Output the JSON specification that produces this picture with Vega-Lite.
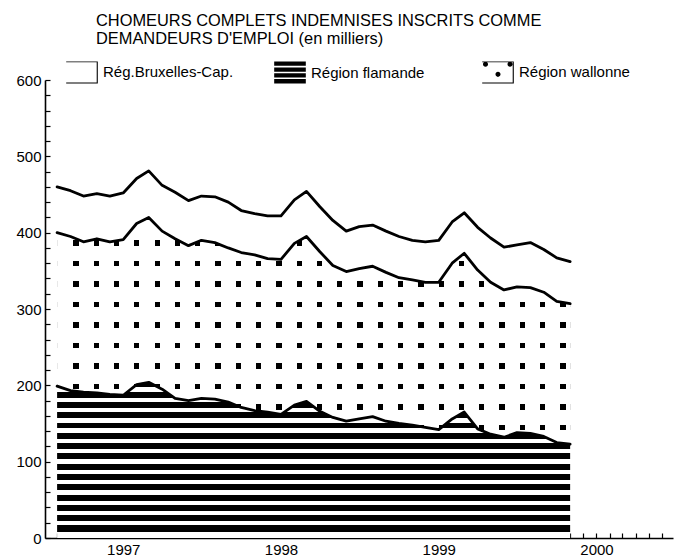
{
  "$schema": "https://vega.github.io/schema/vega-lite/v6.json",
  "width": 628,
  "height": 458,
  "autosize": {"type": "none"},
  "padding": {"left": 45, "top": 80, "right": 15, "bottom": 21},
  "background": "white",
  "config": {"view": {"stroke": null}, "font": "Liberation Sans"},
  "title": {
    "text": ["CHOMEURS COMPLETS INDEMNISES INSCRITS COMME", "DEMANDEURS D'EMPLOI (en milliers)"],
    "anchor": "start", "frame": "group", "dx": 51, "offset": 9,
    "font": "Liberation Sans", "fontSize": 16.4, "fontWeight": "normal", "color": "black", "lineHeight": 18
  },
  "data": {"values": [
    {"date":"1996-08-01","region":"Région flamande","code":"02000","value":199},{"date":"1996-08-01","region":"Région wallonne","code":"03000","value":201},{"date":"1996-08-01","region":"Rég.Bruxelles-Cap.","code":"04000","value":60},
    {"date":"1996-09-01","region":"Région flamande","code":"02000","value":193},{"date":"1996-09-01","region":"Région wallonne","code":"03000","value":202},{"date":"1996-09-01","region":"Rég.Bruxelles-Cap.","code":"04000","value":60},
    {"date":"1996-10-01","region":"Région flamande","code":"02000","value":191},{"date":"1996-10-01","region":"Région wallonne","code":"03000","value":197},{"date":"1996-10-01","region":"Rég.Bruxelles-Cap.","code":"04000","value":60},
    {"date":"1996-11-01","region":"Région flamande","code":"02000","value":190},{"date":"1996-11-01","region":"Région wallonne","code":"03000","value":202},{"date":"1996-11-01","region":"Rég.Bruxelles-Cap.","code":"04000","value":59},
    {"date":"1996-12-01","region":"Région flamande","code":"02000","value":188},{"date":"1996-12-01","region":"Région wallonne","code":"03000","value":200},{"date":"1996-12-01","region":"Rég.Bruxelles-Cap.","code":"04000","value":60},
    {"date":"1997-01-01","region":"Région flamande","code":"02000","value":187},{"date":"1997-01-01","region":"Région wallonne","code":"03000","value":204},{"date":"1997-01-01","region":"Rég.Bruxelles-Cap.","code":"04000","value":61},
    {"date":"1997-02-01","region":"Région flamande","code":"02000","value":201},{"date":"1997-02-01","region":"Région wallonne","code":"03000","value":211},{"date":"1997-02-01","region":"Rég.Bruxelles-Cap.","code":"04000","value":59},
    {"date":"1997-03-01","region":"Région flamande","code":"02000","value":204},{"date":"1997-03-01","region":"Région wallonne","code":"03000","value":216},{"date":"1997-03-01","region":"Rég.Bruxelles-Cap.","code":"04000","value":61},
    {"date":"1997-04-01","region":"Région flamande","code":"02000","value":195},{"date":"1997-04-01","region":"Région wallonne","code":"03000","value":207},{"date":"1997-04-01","region":"Rég.Bruxelles-Cap.","code":"04000","value":60},
    {"date":"1997-05-01","region":"Région flamande","code":"02000","value":183},{"date":"1997-05-01","region":"Région wallonne","code":"03000","value":209},{"date":"1997-05-01","region":"Rég.Bruxelles-Cap.","code":"04000","value":61},
    {"date":"1997-06-01","region":"Région flamande","code":"02000","value":180},{"date":"1997-06-01","region":"Région wallonne","code":"03000","value":203},{"date":"1997-06-01","region":"Rég.Bruxelles-Cap.","code":"04000","value":59},
    {"date":"1997-07-01","region":"Région flamande","code":"02000","value":183},{"date":"1997-07-01","region":"Région wallonne","code":"03000","value":207},{"date":"1997-07-01","region":"Rég.Bruxelles-Cap.","code":"04000","value":58},
    {"date":"1997-08-01","region":"Région flamande","code":"02000","value":182},{"date":"1997-08-01","region":"Région wallonne","code":"03000","value":205},{"date":"1997-08-01","region":"Rég.Bruxelles-Cap.","code":"04000","value":60},
    {"date":"1997-09-01","region":"Région flamande","code":"02000","value":178},{"date":"1997-09-01","region":"Région wallonne","code":"03000","value":202},{"date":"1997-09-01","region":"Rég.Bruxelles-Cap.","code":"04000","value":60},
    {"date":"1997-10-01","region":"Région flamande","code":"02000","value":171},{"date":"1997-10-01","region":"Région wallonne","code":"03000","value":203},{"date":"1997-10-01","region":"Rég.Bruxelles-Cap.","code":"04000","value":55},
    {"date":"1997-11-01","region":"Région flamande","code":"02000","value":167},{"date":"1997-11-01","region":"Région wallonne","code":"03000","value":204},{"date":"1997-11-01","region":"Rég.Bruxelles-Cap.","code":"04000","value":54},
    {"date":"1997-12-01","region":"Région flamande","code":"02000","value":165},{"date":"1997-12-01","region":"Région wallonne","code":"03000","value":201},{"date":"1997-12-01","region":"Rég.Bruxelles-Cap.","code":"04000","value":56},
    {"date":"1998-01-01","region":"Région flamande","code":"02000","value":162},{"date":"1998-01-01","region":"Région wallonne","code":"03000","value":203},{"date":"1998-01-01","region":"Rég.Bruxelles-Cap.","code":"04000","value":57},
    {"date":"1998-02-01","region":"Région flamande","code":"02000","value":174},{"date":"1998-02-01","region":"Région wallonne","code":"03000","value":212},{"date":"1998-02-01","region":"Rég.Bruxelles-Cap.","code":"04000","value":57},
    {"date":"1998-03-01","region":"Région flamande","code":"02000","value":179},{"date":"1998-03-01","region":"Région wallonne","code":"03000","value":216},{"date":"1998-03-01","region":"Rég.Bruxelles-Cap.","code":"04000","value":59},
    {"date":"1998-04-01","region":"Région flamande","code":"02000","value":166},{"date":"1998-04-01","region":"Région wallonne","code":"03000","value":209},{"date":"1998-04-01","region":"Rég.Bruxelles-Cap.","code":"04000","value":59},
    {"date":"1998-05-01","region":"Région flamande","code":"02000","value":158},{"date":"1998-05-01","region":"Région wallonne","code":"03000","value":199},{"date":"1998-05-01","region":"Rég.Bruxelles-Cap.","code":"04000","value":59},
    {"date":"1998-06-01","region":"Région flamande","code":"02000","value":153},{"date":"1998-06-01","region":"Région wallonne","code":"03000","value":196},{"date":"1998-06-01","region":"Rég.Bruxelles-Cap.","code":"04000","value":53},
    {"date":"1998-07-01","region":"Région flamande","code":"02000","value":156},{"date":"1998-07-01","region":"Région wallonne","code":"03000","value":197},{"date":"1998-07-01","region":"Rég.Bruxelles-Cap.","code":"04000","value":55},
    {"date":"1998-08-01","region":"Région flamande","code":"02000","value":159},{"date":"1998-08-01","region":"Région wallonne","code":"03000","value":197},{"date":"1998-08-01","region":"Rég.Bruxelles-Cap.","code":"04000","value":54},
    {"date":"1998-09-01","region":"Région flamande","code":"02000","value":153},{"date":"1998-09-01","region":"Région wallonne","code":"03000","value":195},{"date":"1998-09-01","region":"Rég.Bruxelles-Cap.","code":"04000","value":54},
    {"date":"1998-10-01","region":"Région flamande","code":"02000","value":150},{"date":"1998-10-01","region":"Région wallonne","code":"03000","value":191},{"date":"1998-10-01","region":"Rég.Bruxelles-Cap.","code":"04000","value":54},
    {"date":"1998-11-01","region":"Région flamande","code":"02000","value":148},{"date":"1998-11-01","region":"Région wallonne","code":"03000","value":190},{"date":"1998-11-01","region":"Rég.Bruxelles-Cap.","code":"04000","value":52},
    {"date":"1998-12-01","region":"Région flamande","code":"02000","value":145},{"date":"1998-12-01","region":"Région wallonne","code":"03000","value":190},{"date":"1998-12-01","region":"Rég.Bruxelles-Cap.","code":"04000","value":53},
    {"date":"1999-01-01","region":"Région flamande","code":"02000","value":142},{"date":"1999-01-01","region":"Région wallonne","code":"03000","value":193},{"date":"1999-01-01","region":"Rég.Bruxelles-Cap.","code":"04000","value":55},
    {"date":"1999-02-01","region":"Région flamande","code":"02000","value":156},{"date":"1999-02-01","region":"Région wallonne","code":"03000","value":204},{"date":"1999-02-01","region":"Rég.Bruxelles-Cap.","code":"04000","value":54},
    {"date":"1999-03-01","region":"Région flamande","code":"02000","value":165},{"date":"1999-03-01","region":"Région wallonne","code":"03000","value":208},{"date":"1999-03-01","region":"Rég.Bruxelles-Cap.","code":"04000","value":53},
    {"date":"1999-04-01","region":"Région flamande","code":"02000","value":143},{"date":"1999-04-01","region":"Région wallonne","code":"03000","value":208},{"date":"1999-04-01","region":"Rég.Bruxelles-Cap.","code":"04000","value":56},
    {"date":"1999-05-01","region":"Région flamande","code":"02000","value":136},{"date":"1999-05-01","region":"Région wallonne","code":"03000","value":199},{"date":"1999-05-01","region":"Rég.Bruxelles-Cap.","code":"04000","value":58},
    {"date":"1999-06-01","region":"Région flamande","code":"02000","value":132},{"date":"1999-06-01","region":"Région wallonne","code":"03000","value":193},{"date":"1999-06-01","region":"Rég.Bruxelles-Cap.","code":"04000","value":56},
    {"date":"1999-07-01","region":"Région flamande","code":"02000","value":138},{"date":"1999-07-01","region":"Région wallonne","code":"03000","value":191},{"date":"1999-07-01","region":"Rég.Bruxelles-Cap.","code":"04000","value":55},
    {"date":"1999-08-01","region":"Région flamande","code":"02000","value":137},{"date":"1999-08-01","region":"Région wallonne","code":"03000","value":191},{"date":"1999-08-01","region":"Rég.Bruxelles-Cap.","code":"04000","value":59},
    {"date":"1999-09-01","region":"Région flamande","code":"02000","value":133},{"date":"1999-09-01","region":"Région wallonne","code":"03000","value":189},{"date":"1999-09-01","region":"Rég.Bruxelles-Cap.","code":"04000","value":56},
    {"date":"1999-10-01","region":"Région flamande","code":"02000","value":125},{"date":"1999-10-01","region":"Région wallonne","code":"03000","value":185},{"date":"1999-10-01","region":"Rég.Bruxelles-Cap.","code":"04000","value":57},
    {"date":"1999-11-01","region":"Région flamande","code":"02000","value":123},{"date":"1999-11-01","region":"Région wallonne","code":"03000","value":184},{"date":"1999-11-01","region":"Rég.Bruxelles-Cap.","code":"04000","value":55}
  ]},
  "transform": [
    {"stack": "value", "groupby": ["date"], "sort": [{"field": "code", "order": "ascending"}], "as": ["v0", "v1"]}
  ],
  "encoding": {
    "x": {
      "field": "date", "type": "temporal",
      "scale": {"type": "utc", "domain": [{"year": 1996, "month": 7, "date": 4, "utc": true}, {"year": 2000, "month": 6, "date": 26, "utc": true}]},
      "axis": {
        "title": null, "grid": false,
        "tickCount": {"interval": "month", "step": 1},
        "labelExpr": "utcmonth(datum.value) === 0 ? utcFormat(datum.value, '%Y') : ''",
        "labelOverlap": false, "labelFlush": false,
        "tickSize": -5, "tickWidth": 1.2, "tickColor": "black",
        "domainColor": "black", "domainWidth": 1.6,
        "labelPadding": 9, "labelFont": "Liberation Sans", "labelFontSize": 15, "labelColor": "black"
      }
    },
    "y": {
      "field": "v1", "type": "quantitative",
      "scale": {"domain": [0, 600], "nice": false, "zero": true},
      "axis": {
        "title": null, "grid": false,
        "values": [0,20,40,60,80,100,120,140,160,180,200,220,240,260,280,300,320,340,360,380,400,420,440,460,480,500,520,540,560,580,600],
        "labelExpr": "datum.value % 100 === 0 ? datum.label : ''",
        "labelOverlap": false, "labelFlush": false,
        "tickSize": -5, "tickWidth": 1.2, "tickColor": "black",
        "domainColor": "black", "domainWidth": 1.6,
        "labelPadding": 9, "labelFont": "Liberation Sans", "labelFontSize": 15, "labelColor": "black"
      }
    }
  },
  "layer": [
    {
      "transform": [{"filter": {"field": "code", "equal": "02000"}}],
      "mark": {"type": "area", "opacity": 1, "fill": {
        "gradient": "linear", "x1": 0, "y1": 0, "x2": 0, "y2": 1,
        "stops": [
          {"offset": 0, "color": "black"}, {"offset": 0.0322, "color": "black"}, {"offset": 0.0322, "color": "white"},
          {"offset": 0.0599, "color": "white"}, {"offset": 0.0599, "color": "black"}, {"offset": 0.0984, "color": "black"}, {"offset": 0.0984, "color": "white"},
          {"offset": 0.1260, "color": "white"}, {"offset": 0.1260, "color": "black"}, {"offset": 0.1645, "color": "black"}, {"offset": 0.1645, "color": "white"},
          {"offset": 0.1921, "color": "white"}, {"offset": 0.1921, "color": "black"}, {"offset": 0.2307, "color": "black"}, {"offset": 0.2307, "color": "white"},
          {"offset": 0.2583, "color": "white"}, {"offset": 0.2583, "color": "black"}, {"offset": 0.2968, "color": "black"}, {"offset": 0.2968, "color": "white"},
          {"offset": 0.3244, "color": "white"}, {"offset": 0.3244, "color": "black"}, {"offset": 0.3630, "color": "black"}, {"offset": 0.3630, "color": "white"},
          {"offset": 0.3906, "color": "white"}, {"offset": 0.3906, "color": "black"}, {"offset": 0.4291, "color": "black"}, {"offset": 0.4291, "color": "white"},
          {"offset": 0.4567, "color": "white"}, {"offset": 0.4567, "color": "black"}, {"offset": 0.4952, "color": "black"}, {"offset": 0.4952, "color": "white"},
          {"offset": 0.5229, "color": "white"}, {"offset": 0.5229, "color": "black"}, {"offset": 0.5614, "color": "black"}, {"offset": 0.5614, "color": "white"},
          {"offset": 0.5890, "color": "white"}, {"offset": 0.5890, "color": "black"}, {"offset": 0.6275, "color": "black"}, {"offset": 0.6275, "color": "white"},
          {"offset": 0.6551, "color": "white"}, {"offset": 0.6551, "color": "black"}, {"offset": 0.6937, "color": "black"}, {"offset": 0.6937, "color": "white"},
          {"offset": 0.7213, "color": "white"}, {"offset": 0.7213, "color": "black"}, {"offset": 0.7598, "color": "black"}, {"offset": 0.7598, "color": "white"},
          {"offset": 0.7874, "color": "white"}, {"offset": 0.7874, "color": "black"}, {"offset": 0.8260, "color": "black"}, {"offset": 0.8260, "color": "white"},
          {"offset": 0.8536, "color": "white"}, {"offset": 0.8536, "color": "black"}, {"offset": 0.8921, "color": "black"}, {"offset": 0.8921, "color": "white"},
          {"offset": 0.9197, "color": "white"}, {"offset": 0.9197, "color": "black"}, {"offset": 0.9583, "color": "black"}, {"offset": 0.9583, "color": "white"},
          {"offset": 1, "color": "white"}
        ]}},
      "encoding": {"y2": {"field": "v0"}}
    },
    {
      "transform": [{"filter": {"field": "code", "equal": "03000"}}],
      "mark": {"type": "area", "opacity": 1, "fill": {
        "gradient": "linear", "x1": 0, "y1": 0, "x2": 0, "y2": 1,
        "stops": [
          {"offset": 0, "color": "white"},
          {"offset": 0.1015, "color": "white"}, {"offset": 0.1015, "color": "black"}, {"offset": 0.1244, "color": "black"}, {"offset": 0.1244, "color": "white"},
          {"offset": 0.1919, "color": "white"}, {"offset": 0.1919, "color": "black"}, {"offset": 0.2148, "color": "black"}, {"offset": 0.2148, "color": "white"},
          {"offset": 0.2823, "color": "white"}, {"offset": 0.2823, "color": "black"}, {"offset": 0.3053, "color": "black"}, {"offset": 0.3053, "color": "white"},
          {"offset": 0.3727, "color": "white"}, {"offset": 0.3727, "color": "black"}, {"offset": 0.3957, "color": "black"}, {"offset": 0.3957, "color": "white"},
          {"offset": 0.4632, "color": "white"}, {"offset": 0.4632, "color": "black"}, {"offset": 0.4861, "color": "black"}, {"offset": 0.4861, "color": "white"},
          {"offset": 0.5536, "color": "white"}, {"offset": 0.5536, "color": "black"}, {"offset": 0.5765, "color": "black"}, {"offset": 0.5765, "color": "white"},
          {"offset": 0.6440, "color": "white"}, {"offset": 0.6440, "color": "black"}, {"offset": 0.6670, "color": "black"}, {"offset": 0.6670, "color": "white"},
          {"offset": 0.7344, "color": "white"}, {"offset": 0.7344, "color": "black"}, {"offset": 0.7574, "color": "black"}, {"offset": 0.7574, "color": "white"},
          {"offset": 0.8249, "color": "white"}, {"offset": 0.8249, "color": "black"}, {"offset": 0.8478, "color": "black"}, {"offset": 0.8478, "color": "white"},
          {"offset": 0.9153, "color": "white"}, {"offset": 0.9153, "color": "black"}, {"offset": 0.9382, "color": "black"}, {"offset": 0.9382, "color": "white"},
          {"offset": 1, "color": "white"}
        ]}},
      "encoding": {"y2": {"field": "v0"}}
    },
    {
      "transform": [{"filter": {"field": "code", "equal": "03000"}}],
      "mark": {"type": "area", "opacity": 1, "fill": {
        "gradient": "linear", "x1": 0, "y1": 0, "x2": 1, "y2": 0,
        "stops": [
          {"offset": 0, "color": "white"},
          {"offset": 0.0318, "color": "white"}, {"offset": 0.0318, "color": "rgba(255,255,255,0)"}, {"offset": 0.0419, "color": "rgba(255,255,255,0)"}, {"offset": 0.0419, "color": "white"},
          {"offset": 0.0713, "color": "white"}, {"offset": 0.0713, "color": "rgba(255,255,255,0)"}, {"offset": 0.0815, "color": "rgba(255,255,255,0)"}, {"offset": 0.0815, "color": "white"},
          {"offset": 0.1109, "color": "white"}, {"offset": 0.1109, "color": "rgba(255,255,255,0)"}, {"offset": 0.1210, "color": "rgba(255,255,255,0)"}, {"offset": 0.1210, "color": "white"},
          {"offset": 0.1504, "color": "white"}, {"offset": 0.1504, "color": "rgba(255,255,255,0)"}, {"offset": 0.1606, "color": "rgba(255,255,255,0)"}, {"offset": 0.1606, "color": "white"},
          {"offset": 0.1900, "color": "white"}, {"offset": 0.1900, "color": "rgba(255,255,255,0)"}, {"offset": 0.2001, "color": "rgba(255,255,255,0)"}, {"offset": 0.2001, "color": "white"},
          {"offset": 0.2295, "color": "white"}, {"offset": 0.2295, "color": "rgba(255,255,255,0)"}, {"offset": 0.2397, "color": "rgba(255,255,255,0)"}, {"offset": 0.2397, "color": "white"},
          {"offset": 0.2691, "color": "white"}, {"offset": 0.2691, "color": "rgba(255,255,255,0)"}, {"offset": 0.2792, "color": "rgba(255,255,255,0)"}, {"offset": 0.2792, "color": "white"},
          {"offset": 0.3086, "color": "white"}, {"offset": 0.3086, "color": "rgba(255,255,255,0)"}, {"offset": 0.3187, "color": "rgba(255,255,255,0)"}, {"offset": 0.3187, "color": "white"},
          {"offset": 0.3482, "color": "white"}, {"offset": 0.3482, "color": "rgba(255,255,255,0)"}, {"offset": 0.3583, "color": "rgba(255,255,255,0)"}, {"offset": 0.3583, "color": "white"},
          {"offset": 0.3877, "color": "white"}, {"offset": 0.3877, "color": "rgba(255,255,255,0)"}, {"offset": 0.3978, "color": "rgba(255,255,255,0)"}, {"offset": 0.3978, "color": "white"},
          {"offset": 0.4273, "color": "white"}, {"offset": 0.4273, "color": "rgba(255,255,255,0)"}, {"offset": 0.4374, "color": "rgba(255,255,255,0)"}, {"offset": 0.4374, "color": "white"},
          {"offset": 0.4668, "color": "white"}, {"offset": 0.4668, "color": "rgba(255,255,255,0)"}, {"offset": 0.4769, "color": "rgba(255,255,255,0)"}, {"offset": 0.4769, "color": "white"},
          {"offset": 0.5064, "color": "white"}, {"offset": 0.5064, "color": "rgba(255,255,255,0)"}, {"offset": 0.5165, "color": "rgba(255,255,255,0)"}, {"offset": 0.5165, "color": "white"},
          {"offset": 0.5459, "color": "white"}, {"offset": 0.5459, "color": "rgba(255,255,255,0)"}, {"offset": 0.5560, "color": "rgba(255,255,255,0)"}, {"offset": 0.5560, "color": "white"},
          {"offset": 0.5855, "color": "white"}, {"offset": 0.5855, "color": "rgba(255,255,255,0)"}, {"offset": 0.5956, "color": "rgba(255,255,255,0)"}, {"offset": 0.5956, "color": "white"},
          {"offset": 0.6250, "color": "white"}, {"offset": 0.6250, "color": "rgba(255,255,255,0)"}, {"offset": 0.6351, "color": "rgba(255,255,255,0)"}, {"offset": 0.6351, "color": "white"},
          {"offset": 0.6646, "color": "white"}, {"offset": 0.6646, "color": "rgba(255,255,255,0)"}, {"offset": 0.6747, "color": "rgba(255,255,255,0)"}, {"offset": 0.6747, "color": "white"},
          {"offset": 0.7041, "color": "white"}, {"offset": 0.7041, "color": "rgba(255,255,255,0)"}, {"offset": 0.7142, "color": "rgba(255,255,255,0)"}, {"offset": 0.7142, "color": "white"},
          {"offset": 0.7436, "color": "white"}, {"offset": 0.7436, "color": "rgba(255,255,255,0)"}, {"offset": 0.7538, "color": "rgba(255,255,255,0)"}, {"offset": 0.7538, "color": "white"},
          {"offset": 0.7832, "color": "white"}, {"offset": 0.7832, "color": "rgba(255,255,255,0)"}, {"offset": 0.7933, "color": "rgba(255,255,255,0)"}, {"offset": 0.7933, "color": "white"},
          {"offset": 0.8227, "color": "white"}, {"offset": 0.8227, "color": "rgba(255,255,255,0)"}, {"offset": 0.8329, "color": "rgba(255,255,255,0)"}, {"offset": 0.8329, "color": "white"},
          {"offset": 0.8623, "color": "white"}, {"offset": 0.8623, "color": "rgba(255,255,255,0)"}, {"offset": 0.8724, "color": "rgba(255,255,255,0)"}, {"offset": 0.8724, "color": "white"},
          {"offset": 0.9018, "color": "white"}, {"offset": 0.9018, "color": "rgba(255,255,255,0)"}, {"offset": 0.9120, "color": "rgba(255,255,255,0)"}, {"offset": 0.9120, "color": "white"},
          {"offset": 0.9414, "color": "white"}, {"offset": 0.9414, "color": "rgba(255,255,255,0)"}, {"offset": 0.9515, "color": "rgba(255,255,255,0)"}, {"offset": 0.9515, "color": "white"},
          {"offset": 0.9809, "color": "white"}, {"offset": 0.9809, "color": "rgba(255,255,255,0)"}, {"offset": 0.9911, "color": "rgba(255,255,255,0)"}, {"offset": 0.9911, "color": "white"},
          {"offset": 1, "color": "white"}
        ]}},
      "encoding": {"y2": {"field": "v0"}}
    },
    {
      "transform": [{"filter": {"field": "code", "equal": "04000"}}],
      "mark": {"type": "area", "opacity": 1, "fill": "white"},
      "encoding": {"y2": {"field": "v0"}}
    },
    {
      "mark": {"type": "line", "strokeWidth": 2.8, "strokeJoin": "round", "strokeCap": "round"},
      "encoding": {
        "color": {
          "field": "region", "type": "nominal",
          "scale": {"domain": ["Rég.Bruxelles-Cap.", "Région flamande", "Région wallonne"], "range": ["black", "black", "black"]},
          "legend": {
            "title": null, "orient": "none", "legendX": 21, "legendY": -24, "direction": "horizontal",
            "columns": 3, "gridAlign": "all",
            "columnPadding": 40, "padding": 0, "symbolSize": 1000, "symbolStrokeWidth": 0,
            "labelFont": "Liberation Sans", "labelFontSize": 15, "labelColor": "black", "labelOffset": 5, "labelLimit": 300,
            "encode": {"symbols": {"update": {
              "shape": {"signal": "datum.value === 'Région flamande' ? 'M-1,-0.7H1V-0.43H-1Z M-1,-0.33H1V-0.06H-1Z M-1,0.04H1V0.31H-1Z M-1,0.41H1V0.68H-1Z' : datum.value === 'Région wallonne' ? 'M-1,-0.7H1V-0.64H-1Z M0.93,-0.7H1V0.7H0.93Z M-1,0.63H1V0.7H-1Z M-0.95,-0.52A0.16,0.16 0 1,1 -0.63,-0.52A0.16,0.16 0 1,1 -0.95,-0.52Z M0.6,-0.52A0.16,0.16 0 1,1 0.92,-0.52A0.16,0.16 0 1,1 0.6,-0.52Z M-0.16,0.12A0.16,0.16 0 1,1 0.16,0.12A0.16,0.16 0 1,1 -0.16,0.12Z' : 'M-1,-0.7H1V-0.64H-1Z M0.93,-0.7H1V0.7H0.93Z M-1,0.63H1V0.7H-1Z'"},
              "fill": {"value": "black"},
              "fillOpacity": {"value": 1},
              "opacity": {"value": 1},
              "stroke": {"value": "transparent"},
              "strokeWidth": {"value": 0}
            }}}
          }
        }
      }
    }
  ]
}
